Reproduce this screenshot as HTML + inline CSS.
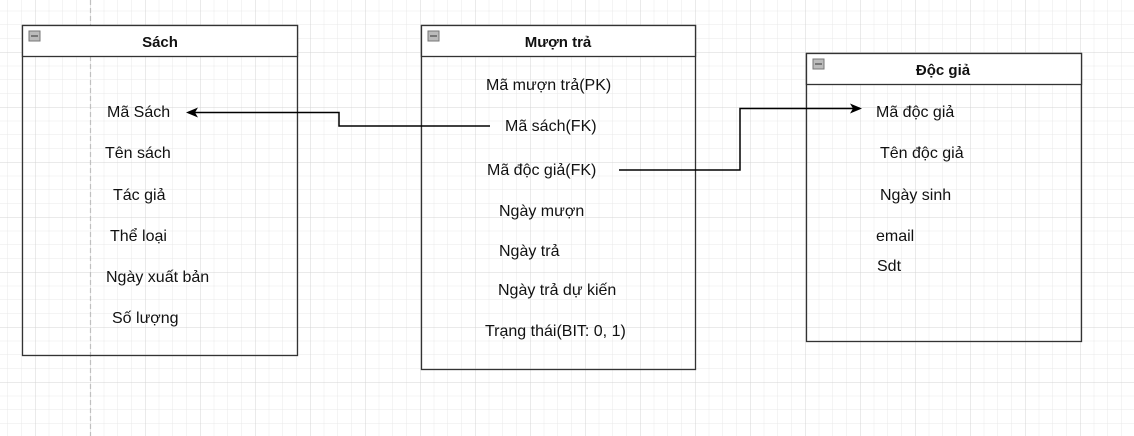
<!DOCTYPE html>
<html><head><meta charset="utf-8"><style>
html,body{margin:0;padding:0;background:#fff;}
svg{display:block;}
text{font-family:"Liberation Sans","Noto Sans CJK SC",sans-serif;font-size:16px;fill:#111;}
.b{font-weight:bold;font-size:15px;}
</style></head><body>
<svg width="1134" height="436" viewBox="0 0 1134 436" xmlns="http://www.w3.org/2000/svg">
<defs>
<pattern id="minor" x="35" y="52" width="13.75" height="13.75" patternUnits="userSpaceOnUse">
<path d="M0 0V13.75M0 0H13.75" stroke="#e8e8e8" stroke-width="1" fill="none"/>
</pattern>
<pattern id="major" x="35" y="52" width="55" height="55" patternUnits="userSpaceOnUse">
<path d="M0 0V55M0 0H55" stroke="#d4d4d4" stroke-width="1" fill="none"/>
</pattern>
<marker id="ar" markerWidth="12" markerHeight="10" refX="10" refY="5" orient="auto" markerUnits="userSpaceOnUse">
<path d="M0 0L12 5L0 10L3 5Z" fill="#000"/>
</marker>
</defs>
<rect width="1134" height="436" fill="#fff"/>
<rect width="1134" height="436" fill="url(#minor)"/>
<rect width="1134" height="436" fill="url(#major)"/>
<line x1="90.5" y1="0" x2="90.5" y2="436" stroke="#c0c0c0" stroke-width="1.2" stroke-dasharray="5,3"/>

<!-- Sach -->
<rect x="22.5" y="25.5" width="275" height="330" fill="none" stroke="#333" stroke-width="1.3"/>
<rect x="22.5" y="25.5" width="275" height="31" fill="#fff" stroke="#333" stroke-width="1.3"/>
<rect x="29" y="31" width="11" height="10" fill="#bbb" stroke="#777" stroke-width="1"/><line x1="31" y1="36" x2="38" y2="36" stroke="#333"/>
<text x="160" y="47" text-anchor="middle" class="b">Sách</text>
<text x="107" y="117">Mã Sách</text>
<text x="105" y="158">Tên sách</text>
<text x="113" y="200">Tác giả</text>
<text x="110" y="241">Thể loại</text>
<text x="106" y="282">Ngày xuất bản</text>
<text x="112" y="323">Số lượng</text>

<!-- Muon tra -->
<rect x="421.5" y="25.5" width="274" height="344" fill="none" stroke="#333" stroke-width="1.3"/>
<rect x="421.5" y="25.5" width="274" height="31" fill="#fff" stroke="#333" stroke-width="1.3"/>
<rect x="428" y="31" width="11" height="10" fill="#bbb" stroke="#777" stroke-width="1"/><line x1="430" y1="36" x2="437" y2="36" stroke="#333"/>
<text x="558" y="47" text-anchor="middle" class="b">Mượn trả</text>
<text x="486" y="90">Mã mượn trả(PK)</text>
<text x="505" y="131">Mã sách(FK)</text>
<text x="487" y="175">Mã độc giả(FK)</text>
<text x="499" y="216">Ngày mượn</text>
<text x="499" y="256">Ngày trả</text>
<text x="498" y="295">Ngày trả dự kiến</text>
<text x="485" y="336">Trạng thái(BIT: 0, 1)</text>

<!-- Doc gia -->
<rect x="806.5" y="53.5" width="275" height="288" fill="none" stroke="#333" stroke-width="1.3"/>
<rect x="806.5" y="53.5" width="275" height="31" fill="#fff" stroke="#333" stroke-width="1.3"/>
<rect x="813" y="59" width="11" height="10" fill="#bbb" stroke="#777" stroke-width="1"/><line x1="815" y1="64" x2="822" y2="64" stroke="#333"/>
<text x="943" y="75" text-anchor="middle" class="b">Độc giả</text>
<text x="876" y="117">Mã độc giả</text>
<text x="880" y="158">Tên độc giả</text>
<text x="880" y="200">Ngày sinh</text>
<text x="876" y="241">email</text>
<text x="877" y="271">Sdt</text>

<!-- connectors -->
<polyline points="490,126 339,126 339,112.5 188,112.5" fill="none" stroke="#000" stroke-width="1.5" marker-end="url(#ar)"/>
<polyline points="619,170 740,170 740,108.5 860,108.5" fill="none" stroke="#000" stroke-width="1.5" marker-end="url(#ar)"/>
</svg>
</body></html>
